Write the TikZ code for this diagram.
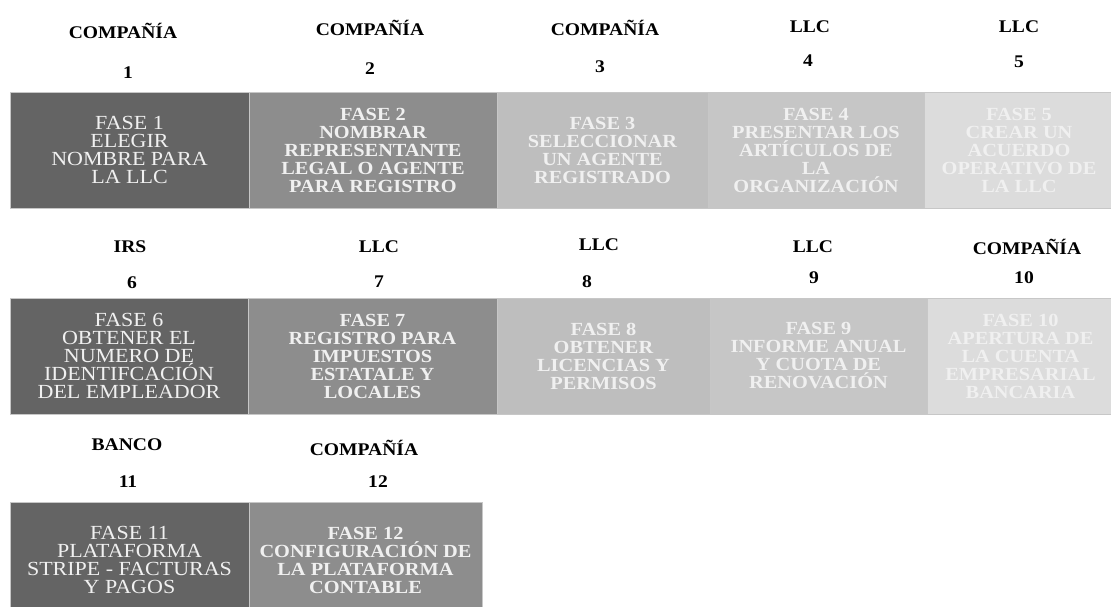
\documentclass[tikz,border=0pt]{standalone}
\usepackage{fontspec}
\setmainfont[FakeStretch=1.1]{Liberation Serif}
\definecolor{grigioA}{RGB}{100,100,100}
\definecolor{grigioB}{RGB}{141,141,141}
\definecolor{grigioC}{RGB}{190,190,190}
\definecolor{grigioD}{RGB}{198,198,198}
\definecolor{grigioE}{RGB}{220,220,220}
\begin{document}
\begin{tikzpicture}[x=1pt,y=-1pt,
    fase/.style={rectangle, draw=black!22, line width=0.6pt, minimum height=116pt, inner sep=0pt,
        align=center, text=white!94!black, font=\fontsize{18.5}{18}\selectfont\bfseries},
    faseuno/.style={fase, font=\fontsize{20}{18}\selectfont},
    ente/.style={inner sep=0pt, font=\fontsize{17.8}{17.8}\selectfont\bfseries}]
    %disegna le 12 fasi in tre righe, con ente e numero sopra ogni fase
    \useasboundingbox (0,0) rectangle (1111,607);

    \node[faseuno, fill=grigioA, minimum width=239pt] (f1) at (129.5,150) {FASE 1\\ELEGIR\\NOMBRE PARA\\LA LLC};
    \node[fase, fill=grigioB, minimum width=248pt] (f2) at (373,150) {FASE 2\\NOMBRAR\\REPRESENTANTE\\LEGAL O AGENTE\\PARA REGISTRO};
    \node[fase, fill=grigioC, minimum width=211pt] (f3) at (602.5,150) {FASE 3\\SELECCIONAR\\UN AGENTE\\REGISTRADO};
    \node[fase, fill=grigioD, minimum width=216pt] (f4) at (816,150) {FASE 4\\PRESENTAR LOS\\ARTÍCULOS DE\\LA\\ORGANIZACIÓN};
    \node[fase, fill=grigioE, minimum width=190pt] (f5) at (1019,150) {FASE 5\\CREAR UN\\ACUERDO\\OPERATIVO DE\\LA LLC};

    \node[faseuno, fill=grigioA, minimum width=238pt] (f6) at (129,356) {FASE 6\\OBTENER EL\\NUMERO DE\\IDENTIFCACIÓN\\DEL EMPLEADOR};
    \node[fase, fill=grigioB, minimum width=249pt] (f7) at (372.5,356) {FASE 7\\REGISTRO PARA\\IMPUESTOS\\ESTATALE Y\\LOCALES};
    \node[fase, fill=grigioC, minimum width=213pt] (f8) at (603.5,356) {FASE 8\\OBTENER\\LICENCIAS Y\\PERMISOS};
    \node[fase, fill=grigioD, minimum width=217pt] (f9) at (818.5,356) {FASE 9\\INFORME ANUAL\\Y CUOTA DE\\RENOVACIÓN};
    \node[fase, fill=grigioE, minimum width=187pt] (f10) at (1020.5,356) {FASE 10\\APERTURA DE\\LA CUENTA\\EMPRESARIAL\\BANCARIA};

    \node[faseuno, fill=grigioA, minimum width=239pt] (f11) at (129.5,560) {FASE 11\\PLATAFORMA\\STRIPE - FACTURAS\\Y PAGOS};
    \node[fase, fill=grigioB, minimum width=233pt] (f12) at (365.5,560) {FASE 12\\CONFIGURACIÓN DE\\LA PLATAFORMA\\CONTABLE};

    \node[ente] (e1) at (123,31) {COMPAÑÍA};
    \node[ente] (n1) at (128,73) {1};
    \node[ente] (e2) at (370,28) {COMPAÑÍA};
    \node[ente] (n2) at (370,69) {2};
    \node[ente] (e3) at (605,28) {COMPAÑÍA};
    \node[ente] (n3) at (600,67) {3};
    \node[ente] (e4) at (810,27) {LLC};
    \node[ente] (n4) at (808,61) {4};
    \node[ente] (e5) at (1019,27) {LLC};
    \node[ente] (n5) at (1019,62) {5};

    \node[ente] (e6) at (130,247) {IRS};
    \node[ente] (n6) at (132,283) {6};
    \node[ente] (e7) at (379,247) {LLC};
    \node[ente] (n7) at (379,282) {7};
    \node[ente] (e8) at (599,245) {LLC};
    \node[ente] (n8) at (587,282) {8};
    \node[ente] (e9) at (813,247) {LLC};
    \node[ente] (n9) at (814,278) {9};
    \node[ente] (e10) at (1027,247) {COMPAÑÍA};
    \node[ente] (n10) at (1024,278) {10};

    \node[ente] (e11) at (127,445) {BANCO};
    \node[ente] (n11) at (128,482) {11};
    \node[ente] (e12) at (364,448) {COMPAÑÍA};
    \node[ente] (n12) at (378,482) {12};

\end{tikzpicture}
\end{document}
